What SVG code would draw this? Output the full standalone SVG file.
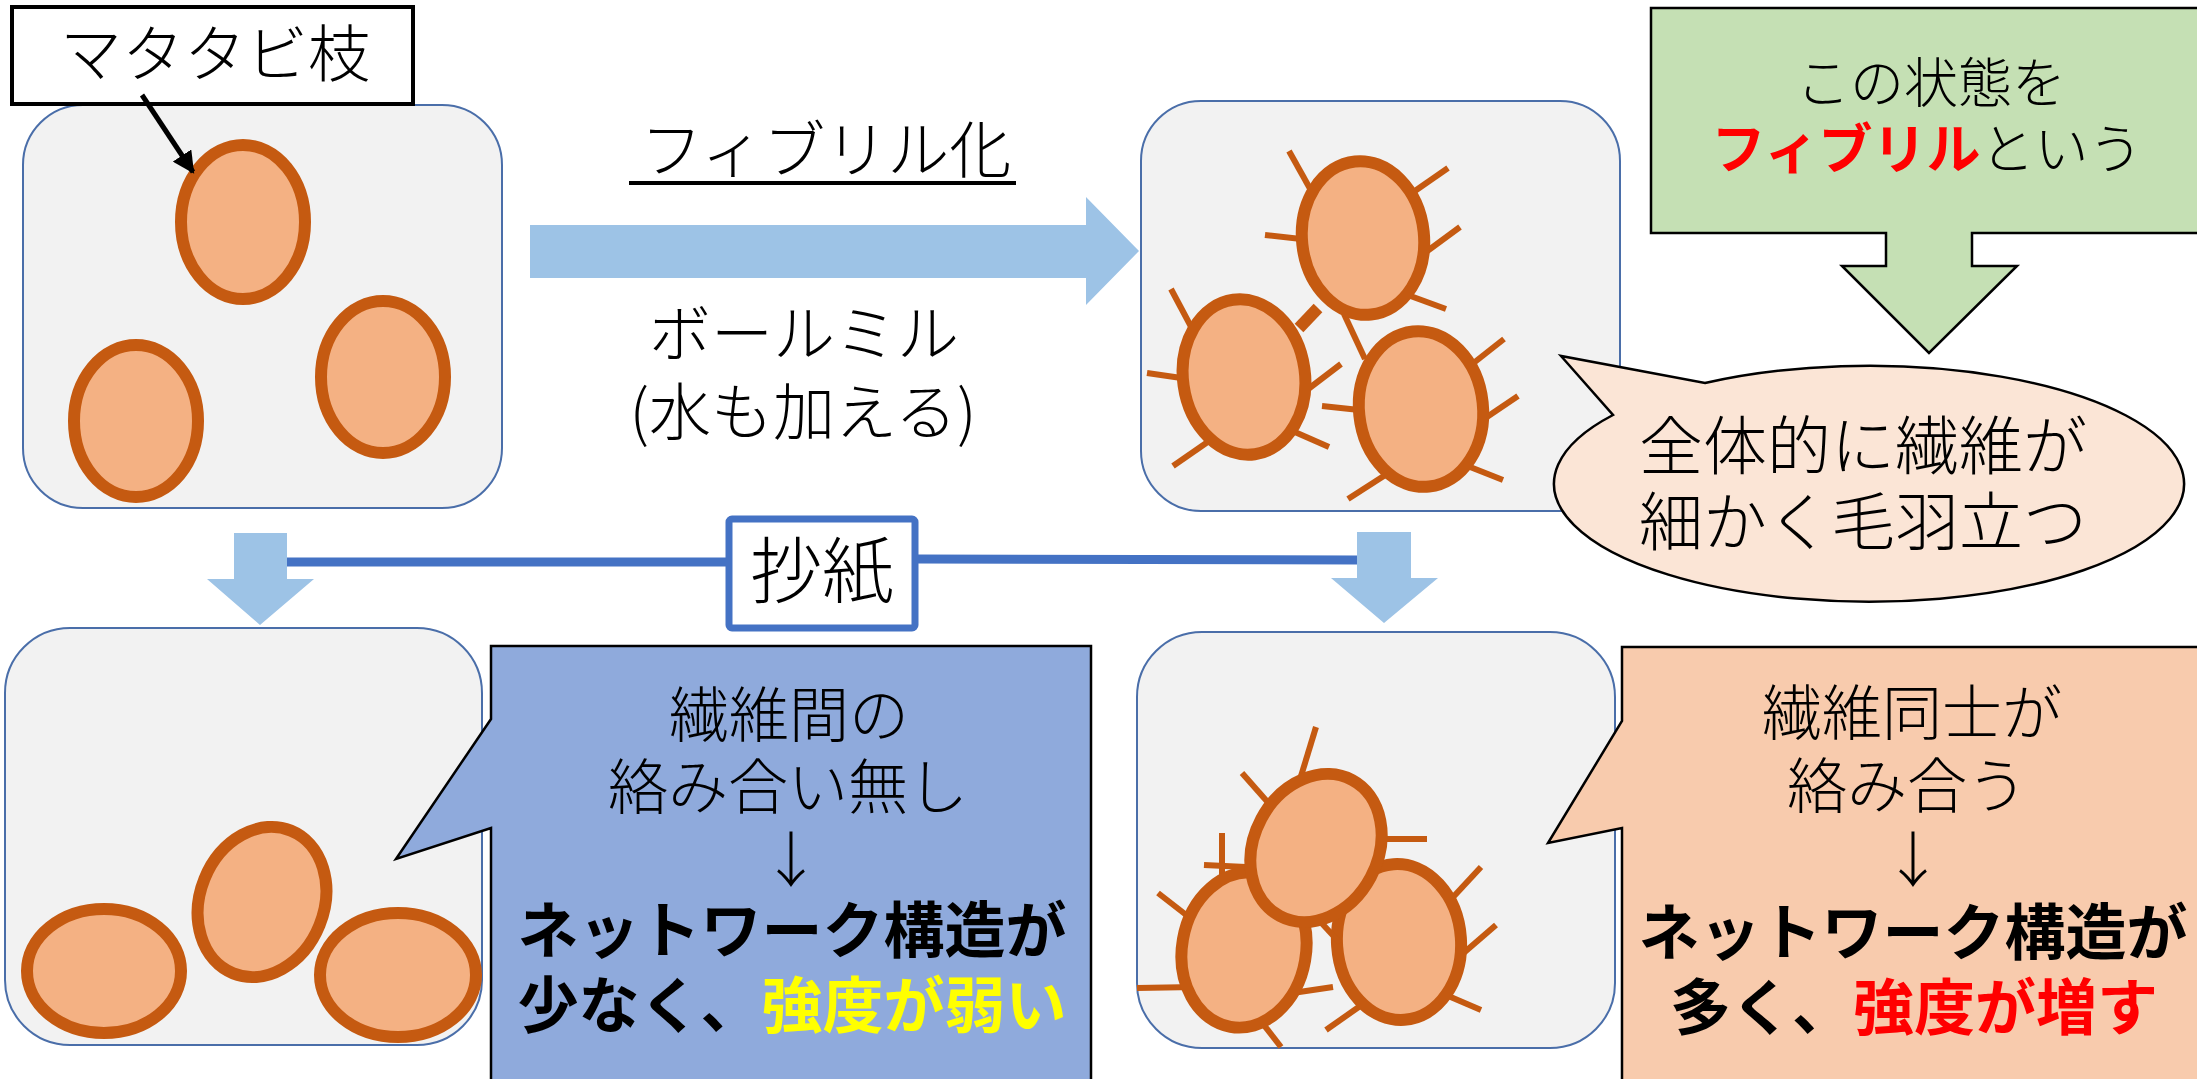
<svg xmlns="http://www.w3.org/2000/svg" width="2197" height="1079" viewBox="0 0 2197 1079">
  <style>
    .jp { font-family: "Noto Sans CJK JP", "Noto Sans", sans-serif; fill: #000; }
    .thin { font-weight: 300; }
    .bold { font-weight: 700; }
    .panel { fill: #f2f2f2; stroke: #4a6ea9; stroke-width: 2; }
    .fiber { fill: #f4b183; stroke: #c55a11; stroke-width: 12; }
    .hair { stroke: #c55a11; stroke-width: 6; stroke-linecap: butt; fill: none; }
    .flow { fill: #9dc3e6; }
  </style>
  <defs>
    <marker id="arrowBlack" viewBox="0 0 10 10" refX="9" refY="5" markerWidth="22" markerHeight="22" markerUnits="userSpaceOnUse" orient="auto">
      <path d="M0,0 L10,5 L0,10 Z" fill="#000"/>
    </marker>
  </defs>

  <rect width="2197" height="1079" fill="#fff"/>

  <!-- raw twig particles -->
  <g id="panel-raw">
    <rect class="panel" x="23" y="105" width="479" height="403" rx="60" ry="60"/>
    <ellipse class="fiber" cx="243" cy="222" rx="62" ry="77"/>
    <ellipse class="fiber" cx="136" cy="421" rx="62" ry="76"/>
    <ellipse class="fiber" cx="383" cy="377" rx="62" ry="76"/>
  </g>

  <!-- fibrillated particles -->
  <g id="panel-fibril">
    <rect class="panel" x="1141" y="101" width="479" height="410" rx="60" ry="60"/>
    <g class="hair">
      <line x1="1289" y1="151" x2="1313" y2="194"/>
      <line x1="1448" y1="168" x2="1412" y2="193"/>
      <line x1="1460" y1="227" x2="1422" y2="255"/>
      <line x1="1265" y1="235" x2="1319" y2="241"/>
      <line x1="1446" y1="309" x2="1405" y2="294"/>
      <line x1="1365" y1="359" x2="1344" y2="314"/>
      <line x1="1171" y1="289" x2="1196" y2="336"/>
      <line x1="1147" y1="373" x2="1202" y2="381"/>
      <line x1="1341" y1="364" x2="1303" y2="393"/>
      <line x1="1173" y1="466" x2="1212" y2="439"/>
      <line x1="1329" y1="447" x2="1288" y2="429"/>
      <line x1="1322" y1="406" x2="1378" y2="412"/>
      <line x1="1504" y1="339" x2="1471" y2="365"/>
      <line x1="1518" y1="396" x2="1481" y2="421"/>
      <line x1="1503" y1="480" x2="1460" y2="463"/>
      <line x1="1348" y1="499" x2="1390" y2="472"/>
      <line x1="1318" y1="308" x2="1299" y2="328" stroke-width="12"/>
    </g>
    <ellipse class="fiber" cx="1363" cy="238" rx="61" ry="77" transform="rotate(-6 1363 238)"/>
    <ellipse class="fiber" cx="1244" cy="377" rx="61" ry="78" transform="rotate(-8 1244 377)"/>
    <ellipse class="fiber" cx="1421" cy="409" rx="62" ry="78" transform="rotate(-6 1421 409)"/>
  </g>

  <!-- paper sheet from raw particles -->
  <g id="panel-paper-raw">
    <rect class="panel" x="5" y="628" width="477" height="417" rx="65" ry="65"/>
    <ellipse class="fiber" cx="104" cy="971" rx="77" ry="62"/>
    <ellipse class="fiber" cx="398" cy="975" rx="78" ry="62"/>
    <ellipse class="fiber" cx="262" cy="902" rx="62" ry="77" transform="rotate(22 262 902)"/>
  </g>

  <!-- paper sheet from fibrillated particles -->
  <g id="panel-paper-fibril">
    <rect class="panel" x="1137" y="632" width="478" height="416" rx="65" ry="65"/>
    <g class="hair">
      <line x1="1316" y1="727" x2="1298" y2="786"/>
      <line x1="1242" y1="773" x2="1288" y2="825"/>
      <line x1="1427" y1="839" x2="1371" y2="839"/>
      <line x1="1222" y1="833" x2="1222" y2="893"/>
      <line x1="1204" y1="865" x2="1267" y2="868"/>
      <line x1="1158" y1="893" x2="1212" y2="935"/>
      <line x1="1481" y1="867" x2="1443" y2="908"/>
      <line x1="1496" y1="925" x2="1452" y2="963"/>
      <line x1="1137" y1="988" x2="1195" y2="987"/>
      <line x1="1333" y1="987" x2="1279" y2="995"/>
      <line x1="1281" y1="1047" x2="1249" y2="1006"/>
      <line x1="1326" y1="1030" x2="1373" y2="997"/>
      <line x1="1481" y1="1010" x2="1432" y2="989"/>
    </g>
    <ellipse class="fiber" cx="1244" cy="950" rx="62" ry="78" transform="rotate(10 1244 950)"/>
    <ellipse class="fiber" cx="1399" cy="942" rx="62" ry="78" transform="rotate(-4 1399 942)"/>
    <g class="hair">
      <line x1="1326" y1="853" x2="1343" y2="890"/>
      <line x1="1316" y1="917" x2="1340" y2="943"/>
    </g>
    <ellipse class="fiber" cx="1316" cy="848" rx="62" ry="77" transform="rotate(28 1316 848)"/>
  </g>

  <!-- label for the twig particle -->
  <g id="label-matatabi">
    <rect x="12" y="7" width="401" height="97" fill="#fff" stroke="#000" stroke-width="4"/>
    <text class="jp thin" x="215" y="77" font-size="62" text-anchor="middle">マタタビ枝</text>
  </g>

  <!-- process label above / below the main arrow -->
  <g id="label-fibrillation">
    <text class="jp thin" x="826" y="173" font-size="62" text-anchor="middle">フィブリル化</text>
    <rect x="629" y="181" width="387" height="4" fill="#000"/>
    <text class="jp thin" x="804" y="357" font-size="62" text-anchor="middle">ボールミル</text>
    <text class="jp thin" x="803" y="435" font-size="62" text-anchor="middle">(水も加える)</text>
  </g>

  <!-- green note with downward arrow -->
  <g id="note-fibril">
    <path d="M1651,8 L2205,8 L2205,233 L1972,233 L1972,266 L2017,266 L1929,353 L1842,266 L1886,266 L1886,233 L1651,233 Z" fill="#c5e0b4" stroke="#000" stroke-width="2.5"/>
    <text class="jp thin" x="1931" y="103" font-size="54" text-anchor="middle">この状態を</text>
    <text class="jp thin" x="1927" y="169" font-size="54" text-anchor="middle"><tspan class="bold" fill="#ff0000">フィブリル</tspan>という</text>
  </g>

  <!-- speech bubble -->
  <g id="bubble-fluff">
    <path d="M1705,383 A315,118 0 1 1 1613,415 L1561,356 Z" fill="#fbe5d6" stroke="#000" stroke-width="2.5"/>
    <text class="jp thin" x="1863" y="469" font-size="64" text-anchor="middle">全体的に繊維が</text>
    <text class="jp thin" x="1863" y="545" font-size="64" text-anchor="middle">細かく毛羽立つ</text>
  </g>

  <!-- weak sheet callout -->
  <g id="callout-weak">
    <path d="M491,646 L1091,646 L1091,1090 L491,1090 L491,828 L396,859 L491,719 Z" fill="#8faadc" stroke="#000" stroke-width="2.5"/>
    <text class="jp thin" x="789" y="737" font-size="60" text-anchor="middle">繊維間の</text>
    <text class="jp thin" x="788" y="809" font-size="60" text-anchor="middle">絡み合い無し</text>
    <text class="jp thin" x="791" y="882" font-size="60" text-anchor="middle">↓</text>
    <text class="jp bold" x="792" y="953" font-size="61" text-anchor="middle">ネットワーク構造が</text>
    <text class="jp bold" x="792" y="1028" font-size="61" text-anchor="middle">少なく、<tspan fill="#ffff00">強度が弱い</tspan></text>
  </g>

  <!-- strong sheet callout -->
  <g id="callout-strong">
    <path d="M1622,647 L2205,647 L2205,1090 L1622,1090 L1622,828 L1548,843 L1622,721 Z" fill="#f8cbad" stroke="#000" stroke-width="2.5"/>
    <text class="jp thin" x="1912" y="735" font-size="60" text-anchor="middle">繊維同士が</text>
    <text class="jp thin" x="1907" y="808" font-size="60" text-anchor="middle">絡み合う</text>
    <text class="jp thin" x="1913" y="882" font-size="60" text-anchor="middle">↓</text>
    <text class="jp bold" x="1913" y="955" font-size="61" text-anchor="middle">ネットワーク構造が</text>
    <text class="jp bold" x="1914" y="1030" font-size="61" text-anchor="middle">多く、<tspan fill="#ff0000">強度が増す</tspan></text>
  </g>

  <!-- arrows and the papermaking bracket -->
  <g id="connectors">
    <line x1="142" y1="95" x2="193" y2="172" stroke="#000" stroke-width="5" marker-end="url(#arrowBlack)"/>
    <path class="flow" d="M530,225 L1086,225 L1086,197 L1139,251 L1086,305 L1086,278 L530,278 Z"/>
    <path class="flow" d="M234,533 L287,533 L287,579 L314,579 L260,625 L207,579 L234,579 Z"/>
    <path class="flow" d="M1357,532 L1411,532 L1411,578 L1438,578 L1384,623 L1331,578 L1357,578 Z"/>
    <line x1="287" y1="562" x2="726" y2="562" stroke="#4472c4" stroke-width="9"/>
    <line x1="918" y1="559" x2="1357" y2="560" stroke="#4472c4" stroke-width="9"/>
  </g>

  <!-- papermaking step label -->
  <g id="label-shoushi">
    <rect x="729" y="519" width="186" height="109" rx="3" fill="#fff" stroke="#4472c4" stroke-width="7"/>
    <text class="jp thin" x="822" y="597" font-size="72" text-anchor="middle">抄紙</text>
  </g>
</svg>
